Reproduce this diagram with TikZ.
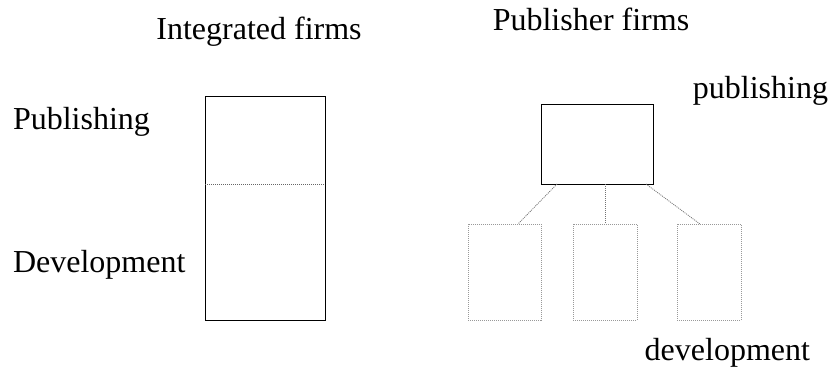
\documentclass[tikz,border=0pt]{standalone}
\usepackage{fontspec}
\setmainfont{Liberation Serif}
\usetikzlibrary{calc}
\begin{document}
\begin{tikzpicture}[x=1pt,y=-1pt,
  lbl/.style={font=\fontsize{32}{36}\selectfont, inner sep=0pt, outer sep=0pt},
  solidbox/.style={draw=black, line width=0.9pt, inner sep=0pt, outer sep=0pt, anchor=north west},
  dotbox/.style={draw=black!40, line width=0.9pt, dash pattern=on 1pt off 1pt, inner sep=0pt, outer sep=0pt, anchor=north west},
  link/.style={draw=black!55, line width=0.8pt, dash pattern=on 1pt off 1pt}]
\useasboundingbox (0,0) rectangle (832,368);
% titles
\node[lbl, anchor=base] (t1) at (259,39) {Integrated firms};
\node[lbl, anchor=base] (t2) at (591,30) {Publisher firms};
% side labels
\node[lbl, anchor=base west] (pub) at (13,129) {Publishing};
\node[lbl, anchor=base west] (dev) at (13,272) {Development};
\node[lbl, anchor=base east] (pub2) at (828,98) {publishing};
\node[lbl, anchor=base east] (dev2) at (810,360) {development};
% integrated box
\node[solidbox, minimum width=120pt, minimum height=224pt] (ib) at (205,96) {};
\draw[draw=black!60, line width=0.8pt, dash pattern=on 1pt off 1pt] ($(ib.north west)+(0,88)$) -- ($(ib.north east)+(0,88)$);
% publisher
\node[solidbox, minimum width=112pt, minimum height=80pt] (top) at (541,104) {};
\node[dotbox, minimum width=73pt, minimum height=96pt] (b1) at (468,224) {};
\node[dotbox, minimum width=64pt, minimum height=96pt] (b2) at (573,224) {};
\node[dotbox, minimum width=64pt, minimum height=96pt] (b3) at (677,224) {};
\draw[link] ($(top.south west)+(16,0)$) -- ($(b1.north west)+(50,0)$);
\draw[link] ($(top.south west)+(64,0)$) -- ($(b2.north west)+(32,0)$);
\draw[link] ($(top.south west)+(105,0)$) -- ($(b3.north west)+(23,0)$);
\end{tikzpicture}
\end{document}
